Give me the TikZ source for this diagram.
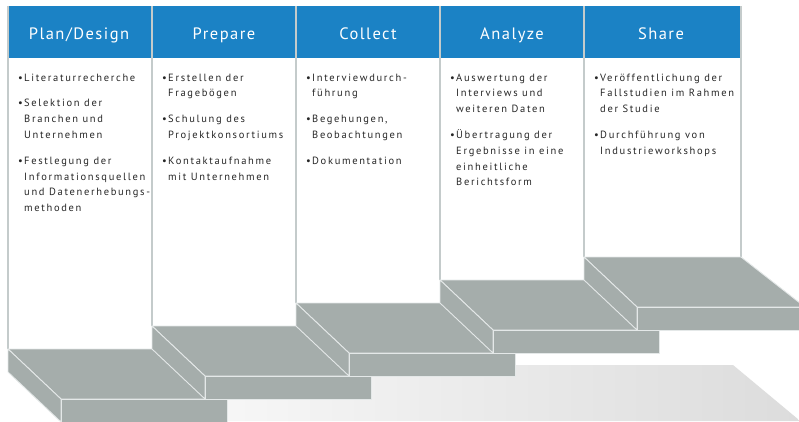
\documentclass[tikz,border=0pt]{standalone}
\usepackage{fontspec}
\setmainfont{PT Sans}[LetterSpace=9]
\newfontfamily\listfont{PT Sans}[LetterSpace=16]
\usetikzlibrary{shapes}
\definecolor{headBlue}{RGB}{27,130,197}
\definecolor{stepGrey}{RGB}{165,173,171}
\definecolor{edgeGrey}{RGB}{228,232,232}
\definecolor{lineGrey}{RGB}{196,203,203}
\definecolor{textGrey}{RGB}{38,38,38}
\definecolor{shadeLeft}{RGB}{248,248,248}
\definecolor{shadeRight}{RGB}{220,220,220}
\newcommand{\blt}{\makebox[6pt][l]{\textbullet}}

\begin{document}
\begin{tikzpicture}[x=1pt, y=-1pt]
	\tikzstyle{headStyle}=[anchor=base, text=white, font=\fontsize{16.5}{19}\selectfont, inner sep=0pt]
	\tikzstyle{listStyle}=[anchor=base west, text=textGrey, font=\listfont\fontsize{10.5}{15.8}\selectfont, inner sep=0pt]
	\tikzstyle{faceStyle}=[fill=stepGrey, draw=edgeGrey, line width=0.9pt, line join=round]
	\tikzstyle{colStyle}=[draw=lineGrey, line width=1.3pt]
	\useasboundingbox (0,0) rectangle (799,421);
	\clip (0,0) rectangle (799,421);
	\shade[left color=shadeLeft, right color=shadeRight] (190,365) -- (733,365) -- (799,420) -- (799,421) -- (190,421) -- cycle;
	\fill[headBlue] (8,6) rectangle (741,58);
	\draw[colStyle] (8,6) -- (8,349);
	\draw[colStyle] (152,6) -- (152,326);
	\draw[colStyle] (296,6) -- (296,303);
	\draw[colStyle] (440,6) -- (440,280);
	\draw[colStyle] (584,6) -- (584,257);
	\draw[colStyle] (741,6) -- (741,257);
	\draw[faceStyle] (8,349) -- (174,349) -- (227,399) -- (61,399) -- cycle;
	\draw[faceStyle] (8,349) -- (61,399) -- (61,422) -- (8,372) -- cycle;
	\draw[faceStyle] (61,399) -- (227,399) -- (227,422) -- (61,422) -- cycle;
	\draw[faceStyle] (152,326) -- (318,326) -- (371,376) -- (205,376) -- cycle;
	\draw[faceStyle] (152,326) -- (205,376) -- (205,399) -- (152,349) -- cycle;
	\draw[faceStyle] (205,376) -- (371,376) -- (371,399) -- (205,399) -- cycle;
	\draw[faceStyle] (296,303) -- (462,303) -- (515,353) -- (349,353) -- cycle;
	\draw[faceStyle] (296,303) -- (349,353) -- (349,376) -- (296,326) -- cycle;
	\draw[faceStyle] (349,353) -- (515,353) -- (515,376) -- (349,376) -- cycle;
	\draw[faceStyle] (440,280) -- (606,280) -- (659,330) -- (493,330) -- cycle;
	\draw[faceStyle] (440,280) -- (493,330) -- (493,353) -- (440,303) -- cycle;
	\draw[faceStyle] (493,330) -- (659,330) -- (659,353) -- (493,353) -- cycle;
	\draw[faceStyle] (584,257) -- (741,257) -- (805,307) -- (637,307) -- cycle;
	\draw[faceStyle] (584,257) -- (637,307) -- (637,330) -- (584,280) -- cycle;
	\draw[faceStyle] (637,307) -- (805,307) -- (805,330) -- (637,330) -- cycle;
	\node[headStyle] (planHead) at (79,39) {Plan/Design};
	\node[headStyle] (prepareHead) at (224,39) {Prepare};
	\node[headStyle] (collectHead) at (368,39) {Collect};
	\node[headStyle] (analyzeHead) at (512,39) {Analyze};
	\node[headStyle] (shareHead) at (661,39) {Share};
	\node[listStyle] (planList) at (18,81) {\begin{tabular}[t]{@{}l@{}l@{}}
		\blt & Literaturrecherche\\[10pt]
		\blt & Selektion der\\ & Branchen und\\ & Unternehmen\\[10pt]
		\blt & Festlegung der\\ & Informationsquellen\\ & und Datenerhebungs-\\ & methoden
	\end{tabular}};
	\node[listStyle] (prepareList) at (162,81) {\begin{tabular}[t]{@{}l@{}l@{}}
		\blt & Erstellen der\\ & Fragebögen\\[10pt]
		\blt & Schulung des\\ & Projektkonsortiums\\[10pt]
		\blt & Kontaktaufnahme\\ & mit Unternehmen
	\end{tabular}};
	\node[listStyle] (collectList) at (306,81) {\begin{tabular}[t]{@{}l@{}l@{}}
		\blt & Interviewdurch-\\ & führung\\[10pt]
		\blt & Begehungen,\\ & Beobachtungen\\[10pt]
		\blt & Dokumentation
	\end{tabular}};
	\node[listStyle] (analyzeList) at (450,81) {\begin{tabular}[t]{@{}l@{}l@{}}
		\blt & Auswertung der\\ & Interviews und\\ & weiteren Daten\\[10pt]
		\blt & Übertragung der\\ & Ergebnisse in eine\\ & einheitliche\\ & Berichtsform
	\end{tabular}};
	\node[listStyle] (shareList) at (594,81) {\begin{tabular}[t]{@{}l@{}l@{}}
		\blt & Veröffentlichung der\\ & Fallstudien im Rahmen\\ & der Studie\\[10pt]
		\blt & Durchführung von\\ & Industrieworkshops
	\end{tabular}};
\end{tikzpicture}
\end{document}
